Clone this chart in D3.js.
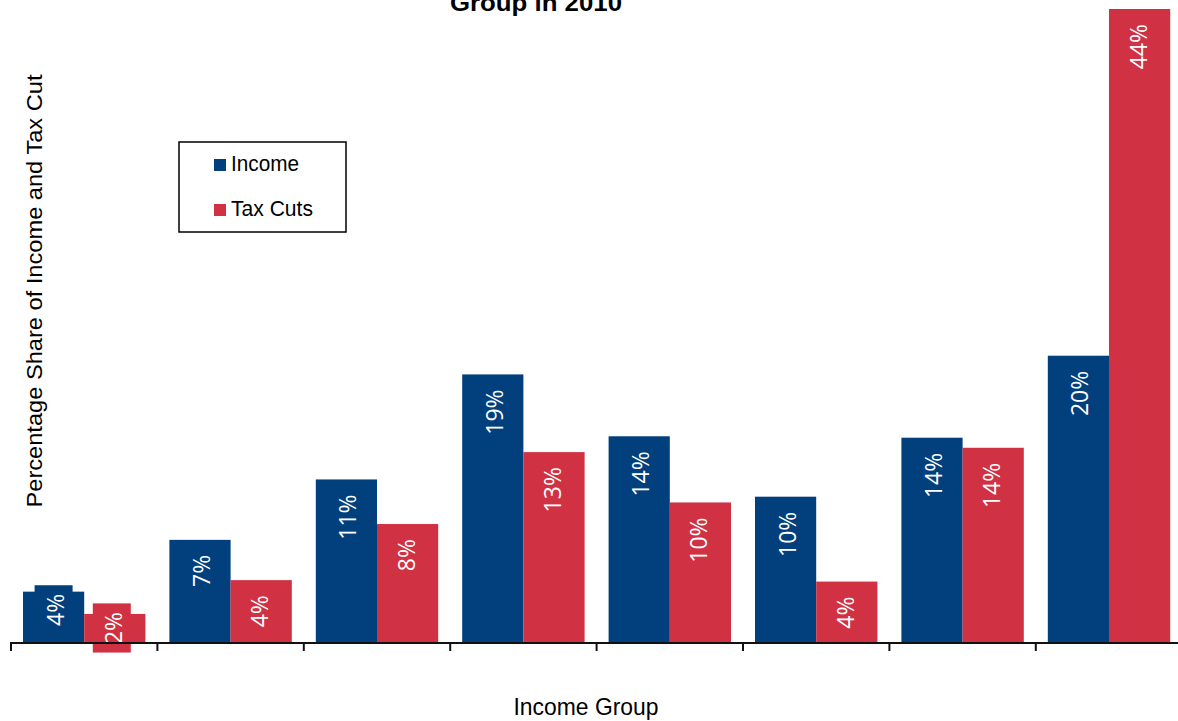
<!DOCTYPE html>
<html>
<head>
<meta charset="utf-8">
<script src="https://cdn.jsdelivr.net/npm/d3@7"></script>
<style>
  body { margin: 0; background: #fff; }
  svg { display: block; }
  .narrow { font-family: "Liberation Sans Narrow", "Arial Narrow", "Liberation Sans", Arial, sans-serif; }
</style>
</head>
<body>
<div id="chart"></div>
<script>
'use strict';

const groups = ['G1', 'G2', 'G3', 'G4', 'G5', 'G6', 'G7', 'G8'];
const seriesNames = ['Income', 'Tax Cuts'];
const incomeValues = [3.5, 7.1, 11.3, 18.6, 14.3, 10.1, 14.2, 19.9];
const taxCutValues = [1.95, 4.3, 8.2, 13.2, 9.7, 4.2, 13.5, 44.0];
const incomeLabels = ['4%', '7%', '11%', '19%', '14%', '10%', '14%', '20%'];
const taxCutLabels = ['2%', '4%', '8%', '13%', '10%', '4%', '14%', '44%'];
const colors = ['#023F7D', '#D03143'];

const width = 1178, height = 721;

const svg = d3.select('#chart')
    .append('svg')
    .attr('width', width)
    .attr('height', height);

const x0 = d3.scaleBand().domain(groups).range([11, 11 + 146.4 * groups.length]);
const x1 = d3.scaleBand().domain(seriesNames).range([12, x0.bandwidth() - 12]);
const y = d3.scaleLinear().domain([0, 44]).range([642, 9]);
const color = d3.scaleOrdinal().domain(seriesNames).range(colors);

const rows = groups.map((g, i) => ({
    group: g,
    bars: [
        {series: 'Income', value: incomeValues[i], label: incomeLabels[i]},
        {series: 'Tax Cuts', value: taxCutValues[i], label: taxCutLabels[i]}
    ]
}));

// bars
const groupSel = svg.selectAll('g.group')
    .data(rows)
    .enter()
    .append('g')
    .attr('class', 'group')
    .attr('transform', d => `translate(${x0(d.group)},0)`);

groupSel.selectAll('rect.bar')
    .data(d => d.bars)
    .enter()
    .append('rect')
    .attr('class', 'bar')
    .attr('x', d => x1(d.series))
    .attr('width', x1.bandwidth())
    .attr('y', d => y(d.value))
    .attr('height', d => y(0) - y(d.value))
    .attr('fill', d => color(d.series));

// data labels: rotated text on a box of the bar colour
const labelSel = groupSel.selectAll('g.label')
    .data(d => d.bars)
    .enter()
    .append('g')
    .attr('class', 'label');

labelSel.each(function (d) {
    const g = d3.select(this);
    const cx = x1(d.series) + x1.bandwidth() / 2 - (d.series === 'Income' ? 0 : 3);
    const box = g.append('rect').attr('fill', color(d.series));
    const text = g.append('text')
        .attr('fill', '#fff')
        .attr('font-family', '"Open Sans", "Noto Sans", sans-serif')
        .attr('font-size', 23)
        .attr('text-anchor', 'middle')
        .attr('dominant-baseline', 'central')
        .text(d.label);
    const len = text.node().getComputedTextLength();
    const top = y(d.value), barH = y(0) - top;
    const boxH = len + 17;
    let cy;
    if (barH >= boxH + 10) {
        cy = top + 15 + len / 2;
    } else {
        cy = top + barH / 2 - (d.series === 'Income' ? 7 : 0);
    }
    text.attr('transform', `translate(${cx + 1},${cy}) rotate(-90)`);
    box.attr('x', cx - 19).attr('width', 38)
        .attr('y', cy - boxH / 2).attr('height', boxH);
});

// x axis (no tick labels)
const tickPos = d3.range(groups.length + 1).map(i => 11 + 146.4 * i);
svg.append('line')
    .attr('x1', 11).attr('x2', width)
    .attr('y1', 643).attr('y2', 643)
    .attr('stroke', '#111').attr('stroke-width', 2);
svg.selectAll('line.tick')
    .data(tickPos)
    .enter()
    .append('line')
    .attr('class', 'tick')
    .attr('x1', d => d).attr('x2', d => d)
    .attr('y1', 642).attr('y2', 651)
    .attr('stroke', '#111').attr('stroke-width', 2);

// titles
svg.append('text')
    .attr('class', 'narrow')
    .attr('x', 536).attr('y', 11)
    .attr('text-anchor', 'middle')
    .attr('font-size', 24).attr('font-weight', 'bold')
    .attr('textLength', 172).attr('lengthAdjust', 'spacingAndGlyphs')
    .text('Group in 2010');

svg.append('text')
    .attr('class', 'narrow')
    .attr('x', 586).attr('y', 715)
    .attr('text-anchor', 'middle')
    .attr('font-size', 24)
    .attr('textLength', 145).attr('lengthAdjust', 'spacingAndGlyphs')
    .text('Income Group');

svg.append('text')
    .attr('class', 'narrow')
    .attr('transform', 'translate(42,291) rotate(-90)')
    .attr('text-anchor', 'middle')
    .attr('font-size', 22)
    .attr('textLength', 433).attr('lengthAdjust', 'spacingAndGlyphs')
    .text('Percentage Share of Income and Tax Cut');

// legend
const legend = svg.append('g').attr('class', 'legend');
legend.append('rect')
    .attr('x', 179).attr('y', 142)
    .attr('width', 167).attr('height', 90)
    .attr('fill', '#fff').attr('stroke', '#000').attr('stroke-width', 1.5);

const legendWidths = [68, 82];
const item = legend.selectAll('g.item')
    .data(seriesNames)
    .enter()
    .append('g')
    .attr('class', 'item')
    .attr('transform', (d, i) => `translate(214,${159 + i * 45})`);
item.append('rect')
    .attr('width', 12).attr('height', 12)
    .attr('fill', d => color(d));
item.append('text')
    .attr('class', 'narrow')
    .attr('x', 17).attr('y', 12)
    .attr('font-size', 22)
    .attr('textLength', (d, i) => legendWidths[i]).attr('lengthAdjust', 'spacingAndGlyphs')
    .text(d => d);
</script>
</body>
</html>
